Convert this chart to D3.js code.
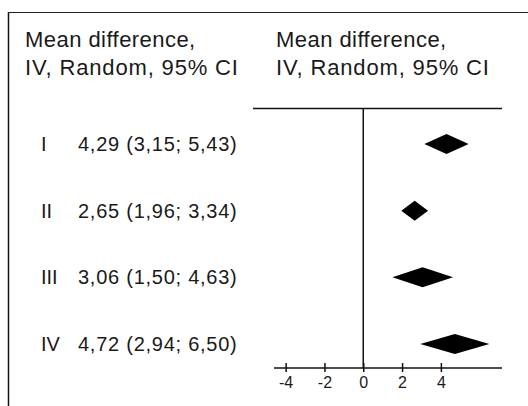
<!DOCTYPE html>
<html lang="en">
<head>
  <meta charset="UTF-8" />
  <title>Forest plot</title>
  <script src="https://d3js.org/d3.v7.min.js"></script>
  <style>
    body { margin: 0; background: #fff; }
    svg { display: block; }
    text { font-family: "Liberation Sans", Arial, sans-serif; fill: #1a1a1a; }
  </style>
</head>
<body>
  <svg width="528" height="406"></svg>
  <script>
    const groups = ["I", "II", "III", "IV"];
    const means = [4.29, 2.65, 3.06, 4.72];
    const lower = [3.15, 1.96, 1.50, 2.94];
    const upper = [5.43, 3.34, 4.63, 6.50];
    const tickValues = [-4, -2, 0, 2, 4];
    const headerLines = ["Mean difference,", "IV, Random, 95% CI"];

    const svg = d3.select("svg");
    const fmt = v => v.toFixed(2).replace(".", ",");

    const x = d3.scaleLinear().domain([-4.6, 7.15]).range([274, 502]);
    const y = d3.scalePoint().domain(groups).range([144, 344]);

    // frame (left + top edges only)
    svg.append("line").attr("x1", 8.5).attr("x2", 8.5).attr("y1", 12).attr("y2", 406)
      .attr("stroke", "#111").attr("stroke-width", 1.5);
    svg.append("line").attr("x1", 8).attr("x2", 528).attr("y1", 12.5).attr("y2", 12.5)
      .attr("stroke", "#222").attr("stroke-width", 1);

    // headers
    [25, 276].forEach(hx => {
      headerLines.forEach((t, i) => {
        svg.append("text").attr("x", hx).attr("y", 47 + i * 28)
          .attr("font-size", 22).attr("letter-spacing", i === 0 ? 0.45 : 0.85).text(t);
      });
    });

    // row labels
    const rows = svg.selectAll("g.row").data(groups).join("g").attr("class", "row");
    rows.append("text").attr("x", 41).attr("y", d => y(d) + 7)
      .attr("font-size", 20).text(d => d);
    rows.append("text").attr("x", 78).attr("y", d => y(d) + 7)
      .attr("font-size", 20).attr("letter-spacing", 0.75)
      .text((d, i) => `${fmt(means[i])} (${fmt(lower[i])}; ${fmt(upper[i])})`);

    // plot top rule and zero line
    svg.append("line").attr("x1", 253).attr("x2", 502).attr("y1", 108.5).attr("y2", 108.5)
      .attr("stroke", "#111").attr("stroke-width", 1.5);
    const axisY = 368;
    svg.append("line").attr("x1", x(0)).attr("x2", x(0)).attr("y1", 108).attr("y2", axisY)
      .attr("stroke", "#111").attr("stroke-width", 1.5);

    // diamonds
    const h = 10;
    svg.selectAll("path.diamond").data(groups).join("path")
      .attr("class", "diamond")
      .attr("fill", "#000")
      .attr("d", (d, i) => {
        const cy = y(d);
        return `M${x(lower[i])},${cy}L${x(means[i])},${cy - h}L${x(upper[i])},${cy}L${x(means[i])},${cy + h}Z`;
      });

    // axis
    const axis = d3.axisBottom(x).tickValues(tickValues).tickSize(0).tickPadding(0)
      .tickFormat(d => d3.format("d")(d).replace("−", "-"));
    const g = svg.append("g").attr("transform", `translate(0,${axisY})`).call(axis);
    g.select(".domain").remove();
    g.append("line").attr("x1", 274).attr("x2", 502).attr("stroke", "#111").attr("stroke-width", 1.5);
    g.selectAll(".tick line").attr("y1", -5).attr("y2", 4).attr("stroke", "#111").attr("stroke-width", 1.5);
    g.selectAll(".tick text").attr("y", 20).attr("dy", 0).attr("font-size", 16)
      .attr("fill", "#1a1a1a").style("font-family", "'Liberation Sans', Arial, sans-serif");
  </script>
</body>
</html>
